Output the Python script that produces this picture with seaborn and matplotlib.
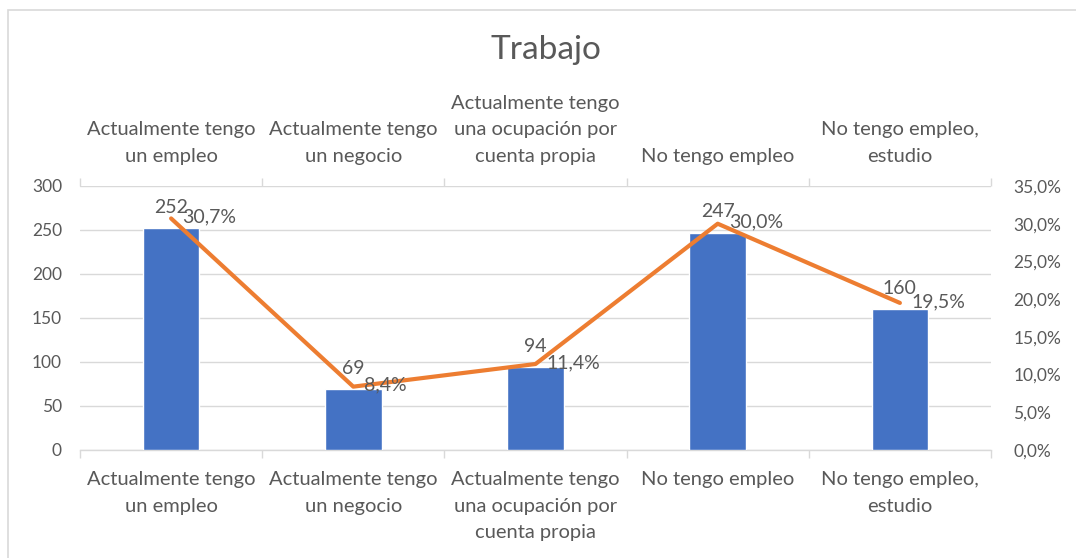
import numpy as np
import pandas as pd
import matplotlib
matplotlib.use("Agg")
import matplotlib.pyplot as plt
from matplotlib.ticker import FuncFormatter, FixedLocator
from matplotlib.patches import Rectangle
import seaborn as sns

categories = [
    "Actualmente tengo\nun empleo",
    "Actualmente tengo\nun negocio",
    "Actualmente tengo\nuna ocupación por\ncuenta propia",
    "No tengo empleo",
    "No tengo empleo,\nestudio",
]
counts = [252, 69, 94, 247, 160]
percents = [30.7, 8.4, 11.4, 30.0, 19.5]

df = pd.DataFrame({"cat": categories, "n": counts, "pct": percents,
                   "pos": np.arange(len(categories))})

sns.set_theme(style="white")
plt.rcParams["font.family"] = ["Lato", "DejaVu Sans"]

TXT = "#595959"
GRID = "#D9D9D9"
BLUE = "#4472C4"
ORANGE = "#ED7D31"
CAT_SIZE = 14.5
CAT_SPACING = 1.7

fig = plt.figure(figsize=(10.76, 5.58), dpi=100)
fig.patches.append(Rectangle((8 / 1076, -0.1), 1.2, 1 - 10 / 558 + 0.1,
                             transform=fig.transFigure, fill=False,
                             edgecolor=GRID, linewidth=1.2))

ax = fig.add_axes([80 / 1076, 1 - 450 / 558, 911 / 1076, 264 / 558])
sns.barplot(data=df, x="cat", y="n", ax=ax, color=BLUE, saturation=1,
            width=0.31, zorder=3)
ax.set_xlim(-0.5, len(categories) - 0.5)
ax.set_ylim(0, 300)
ax.set_yticks(range(0, 301, 50))
ax.grid(axis="y", color=GRID, linewidth=1, zorder=0)
ax.set_axisbelow(True)
for s in ["top", "right", "left"]:
    ax.spines[s].set_visible(False)
ax.spines["bottom"].set_color(GRID)
ax.spines["bottom"].set_linewidth(1)
ax.set_xlabel("")
ax.set_ylabel("")

# category labels on both top and bottom, ticks at category boundaries
ax.xaxis.set_major_locator(FixedLocator(np.arange(len(categories))))
ax.set_xticklabels(categories)
ax.xaxis.set_minor_locator(FixedLocator(np.arange(-0.5, len(categories), 1.0)))
ax.tick_params(axis="x", which="major", length=0, labelsize=CAT_SIZE,
               colors=TXT, labeltop=True, labelbottom=True)
ax.tick_params(axis="x", which="minor", length=6, width=1, color=GRID,
               top=True, bottom=True, direction="out")
ax.tick_params(axis="y", length=0, labelsize=12.5, labelcolor=TXT, pad=13)
for t in ax.xaxis.get_major_ticks():
    t.set_pad(15)
    t.label1.set_linespacing(CAT_SPACING)
    t.label2.set_linespacing(CAT_SPACING)
    t.label2.set_fontsize(CAT_SIZE)
    t.label2.set_color(TXT)

ax.bar_label(ax.containers[0], padding=9, fontsize=14, color=TXT)

ax2 = ax.twinx()
sns.lineplot(data=df, x="pos", y="pct", ax=ax2, color=ORANGE, linewidth=3,
             zorder=4)
ax2.set_ylim(0, 35)
ax2.set_yticks(range(0, 36, 5))
ax2.yaxis.set_major_formatter(FuncFormatter(lambda v, _: f"{v:.1f}".replace(".", ",") + "%"))
ax2.tick_params(axis="y", length=0, labelsize=12.5, labelcolor=TXT, pad=16)
for s in ax2.spines.values():
    s.set_visible(False)
ax2.set_xlabel("")
ax2.set_ylabel("")
ax2.set_xlim(-0.5, len(categories) - 0.5)

for x, v in zip(df["pos"], df["pct"]):
    ax2.annotate(f"{v:.1f}".replace(".", ",") + "%", (x, v),
                 xytext=(8, 1), textcoords="offset points",
                 ha="left", va="center", fontsize=14, color=TXT, zorder=5)

fig.text(546 / 1076, 1 - 50 / 558, "Trabajo", ha="center", va="center",
         fontsize=24, color=TXT)

fig.savefig("out.png", dpi=100)
